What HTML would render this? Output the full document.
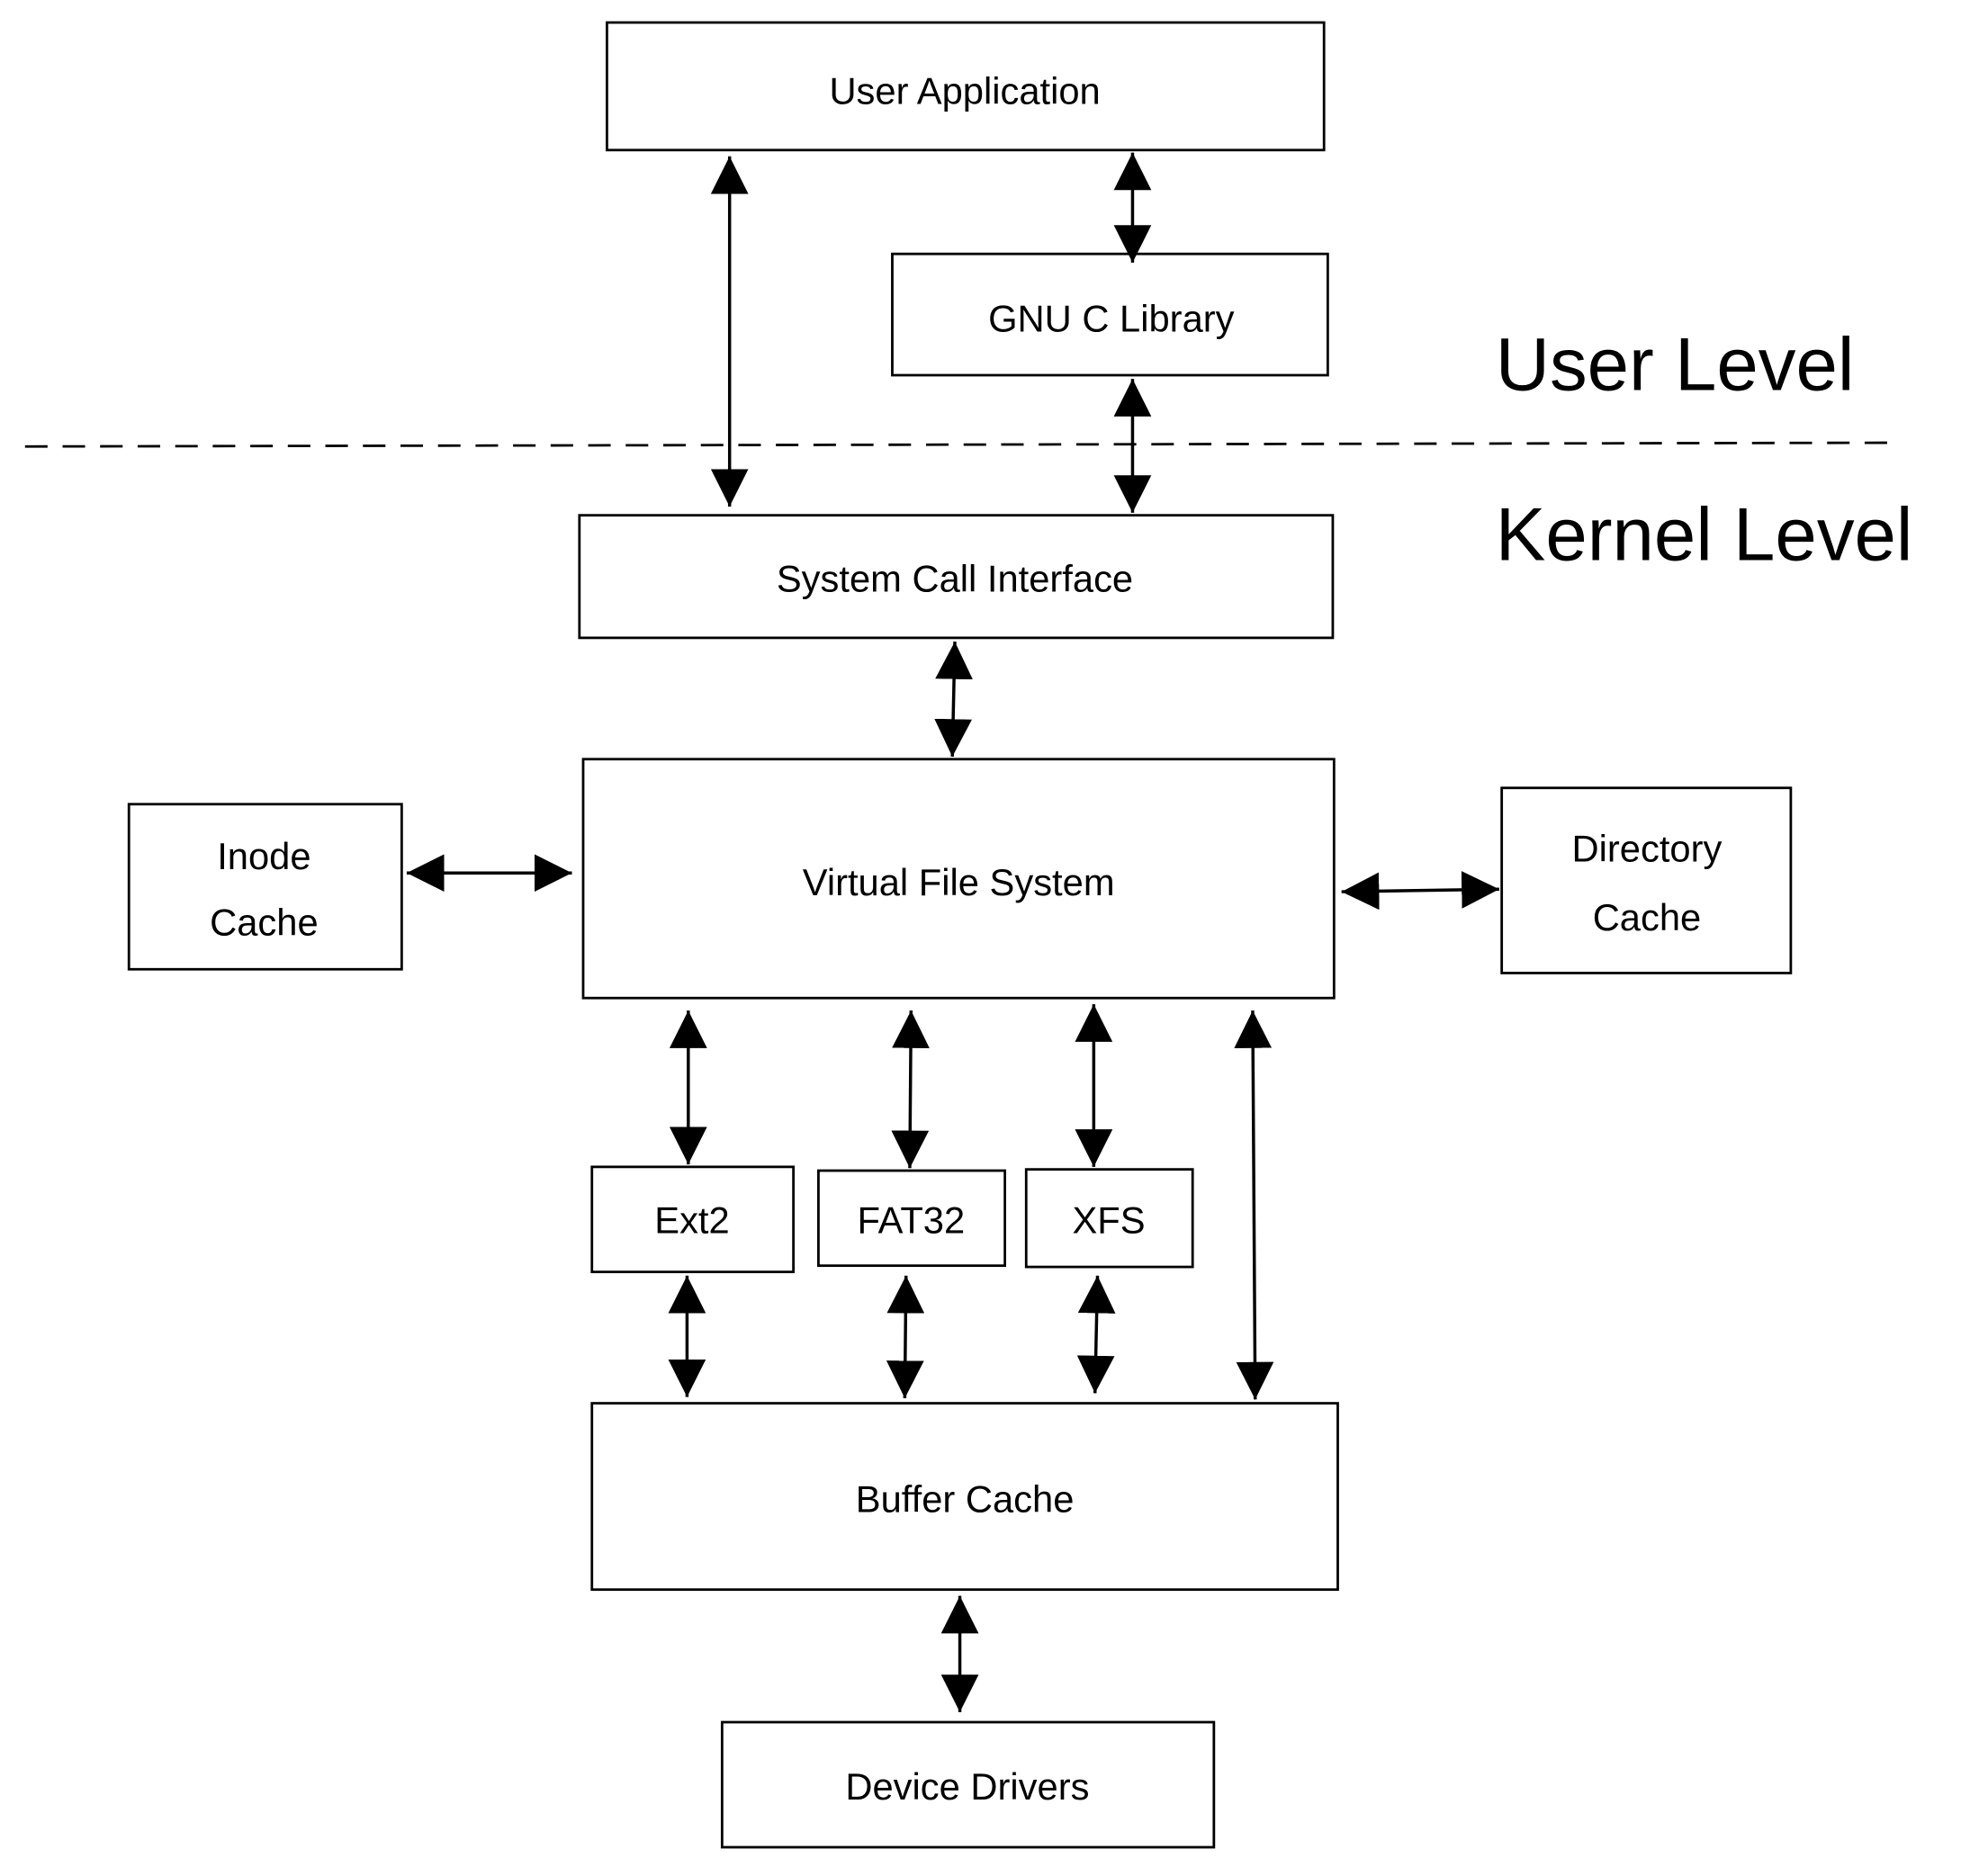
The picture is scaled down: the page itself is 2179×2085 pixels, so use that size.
<!DOCTYPE html>
<html><head><meta charset="utf-8"><style>
html,body{margin:0;padding:0;background:#fff;}
svg{display:block;}
text{font-family:"Liberation Sans",sans-serif;fill:#000;}
</style></head><body>
<svg width="2179" height="2085" viewBox="0 0 1567 1500" preserveAspectRatio="none" xmlns="http://www.w3.org/2000/svg">
<defs>
<marker id="a" viewBox="0 0 30 30" refX="30" refY="15" markerWidth="30" markerHeight="30" markerUnits="userSpaceOnUse" orient="auto-start-reverse">
<path d="M0,0 L30,15 L0,30 z" fill="#000"/>
</marker>
</defs>
<g fill="none" stroke="#000" stroke-width="2">
<rect x="485" y="18" width="573" height="102"/>
<rect x="713" y="203" width="348" height="97"/>
<rect x="463" y="412" width="602" height="98"/>
<rect x="466" y="607" width="600" height="191"/>
<rect x="103" y="643" width="218" height="132"/>
<rect x="1200" y="630" width="231" height="148"/>
<rect x="473" y="933" width="161" height="84"/>
<rect x="654" y="936" width="149" height="76"/>
<rect x="820" y="935" width="133" height="78"/>
<rect x="473" y="1122" width="596" height="149"/>
<rect x="577" y="1377" width="393" height="100"/>
<line x1="20" y1="357" x2="1510" y2="354" stroke-dasharray="18,12"/>
</g>
<g stroke="#000" stroke-width="2.5">
<line x1="583" y1="125" x2="583" y2="405" marker-start="url(#a)" marker-end="url(#a)"/>
<line x1="905" y1="122" x2="905" y2="210" marker-start="url(#a)" marker-end="url(#a)"/>
<line x1="905" y1="303" x2="905" y2="410" marker-start="url(#a)" marker-end="url(#a)"/>
<line x1="763" y1="513" x2="761" y2="605" marker-start="url(#a)" marker-end="url(#a)"/>
<line x1="325" y1="698" x2="457" y2="698" marker-start="url(#a)" marker-end="url(#a)"/>
<line x1="1072" y1="713" x2="1198" y2="711" marker-start="url(#a)" marker-end="url(#a)"/>
<line x1="550" y1="808" x2="550" y2="931" marker-start="url(#a)" marker-end="url(#a)"/>
<line x1="728" y1="808" x2="727" y2="934" marker-start="url(#a)" marker-end="url(#a)"/>
<line x1="874" y1="803" x2="874" y2="933" marker-start="url(#a)" marker-end="url(#a)"/>
<line x1="1001" y1="808" x2="1003" y2="1119" marker-start="url(#a)" marker-end="url(#a)"/>
<line x1="549" y1="1020" x2="549" y2="1117" marker-start="url(#a)" marker-end="url(#a)"/>
<line x1="724" y1="1020" x2="723" y2="1118" marker-start="url(#a)" marker-end="url(#a)"/>
<line x1="877" y1="1020" x2="875" y2="1114" marker-start="url(#a)" marker-end="url(#a)"/>
<line x1="767" y1="1276" x2="767" y2="1369" marker-start="url(#a)" marker-end="url(#a)"/>
</g>
<g font-size="30">
<text x="771" y="83" text-anchor="middle">User Application</text>
<text x="888" y="265" text-anchor="middle">GNU C Library</text>
<text x="763" y="473" text-anchor="middle">System Call Interface</text>
<text x="766" y="716" text-anchor="middle">Virtual File System</text>
<text x="211" y="695" text-anchor="middle">Inode</text>
<text x="211" y="748" text-anchor="middle">Cache</text>
<text x="1316" y="689" text-anchor="middle">Directory</text>
<text x="1316" y="744" text-anchor="middle">Cache</text>
<text x="553" y="986" text-anchor="middle">Ext2</text>
<text x="728" y="986" text-anchor="middle">FAT32</text>
<text x="886" y="986" text-anchor="middle">XFS</text>
<text x="771" y="1209" text-anchor="middle">Buffer Cache</text>
<text x="773" y="1439" text-anchor="middle">Device Drivers</text>
</g>
<g font-size="60">
<text x="1195" y="312">User Level</text>
<text x="1195" y="448">Kernel Level</text>
</g>
</svg>
</body></html>
